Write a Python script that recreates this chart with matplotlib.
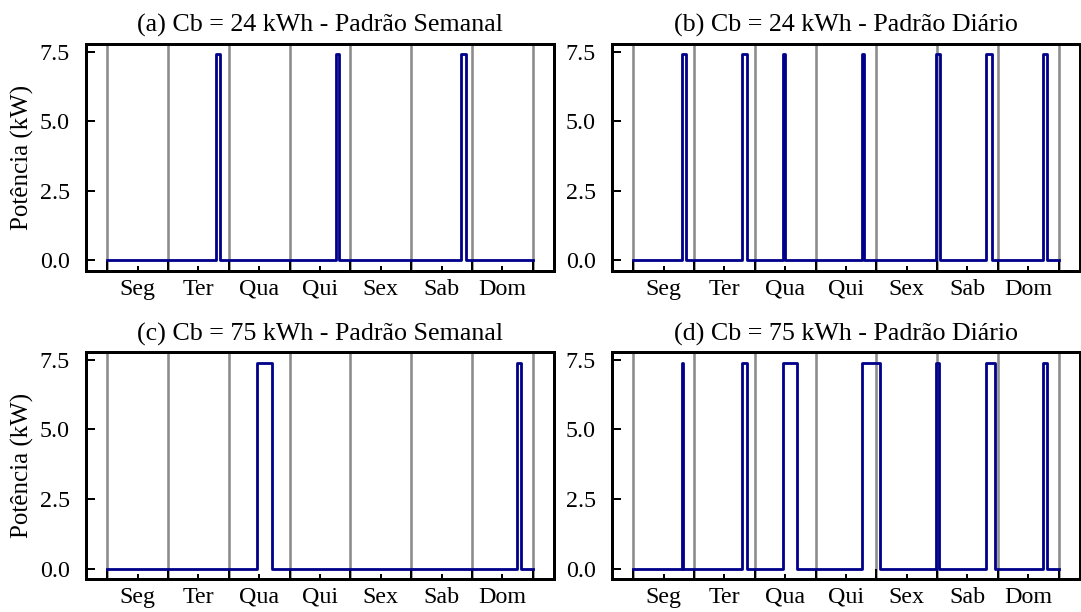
import numpy as np
import matplotlib
matplotlib.use("Agg")
import matplotlib.pyplot as plt

# charging sessions: (start hour, end hour) within the week
sessions_a = [(43.0, 44.5), (90.25, 91.5), (139.5, 141.75)]
sessions_b = [(19.25, 21.0), (43.0, 45.0), (59.0, 60.0), (90.25, 91.25),
              (119.5, 121.25), (139.5, 141.75), (161.75, 163.25)]
sessions_c = [(59.25, 65.0), (161.75, 163.25)]
sessions_d = [(19.25, 19.75), (43.0, 45.0), (59.25, 64.5), (90.25, 97.5),
              (119.75, 120.75), (139.5, 142.75), (161.75, 163.25)]
charge_power = 7.4  # kW

titles = ["(a) Cb = 24 kWh - Padrão Semanal",
          "(b) Cb = 24 kWh - Padrão Diário",
          "(c) Cb = 75 kWh - Padrão Semanal",
          "(d) Cb = 75 kWh - Padrão Diário"]
days = ["Seg", "Ter", "Qua", "Qui", "Sex", "Sab", "Dom"]
yticks = [0.0, 2.5, 5.0, 7.5]


def profile(sessions):
    """Builds the step profile (hour, kW) from the charging sessions."""
    x = [0.0]
    y = [0.0]
    for start, end in sessions:
        x += [start, start, end, end]
        y += [0.0, charge_power, charge_power, 0.0]
    x.append(168.0)
    y.append(0.0)
    return x, y


plt.rcParams['font.family'] = ['Liberation Serif', 'DejaVu Serif']

fig, axes = plt.subplots(2, 2, figsize=(1081 / 144, 612 / 144), dpi=144)
fig.subplots_adjust(left=0.0796, right=0.999, top=0.928, bottom=0.054,
                    wspace=0.124, hspace=0.36)

all_sessions = [sessions_a, sessions_b, sessions_c, sessions_d]
for ax, sessions, title in zip(axes.flat, all_sessions, titles):
    for d in range(8):
        ax.axvline(24 * d, color='#8c8c8c', lw=1.3, zorder=1)
    x, y = profile(sessions)
    ax.plot(x, y, color='darkblue', lw=1.4, zorder=2)

    ax.set_xlim(-8.4, 176.4)
    ax.set_ylim(-0.37, 7.77)
    ax.set_xticks(np.arange(0, 169, 24))
    ax.set_xticklabels([])
    ax.set_xticks(np.arange(12, 168, 24), minor=True)
    ax.set_xticklabels(days, minor=True)
    ax.set_yticks(yticks)
    ax.set_yticklabels([f"{v:.1f}" for v in yticks])

    ax.tick_params(axis='x', which='major', direction='in', length=5, width=1.0)
    ax.tick_params(axis='x', which='minor', direction='in', length=2.5, width=1.0,
                   labelsize=12, pad=4)
    ax.tick_params(axis='y', which='major', direction='in', length=4.5, width=1.0,
                   labelsize=12, pad=8)
    for sp in ax.spines.values():
        sp.set_linewidth(1.5)
    ax.set_title(title, fontsize=13)

for ax in axes[:, 0]:
    ax.set_ylabel("Potência (kW)", fontsize=12.5, labelpad=3)

fig.savefig("out.png", dpi=144)
